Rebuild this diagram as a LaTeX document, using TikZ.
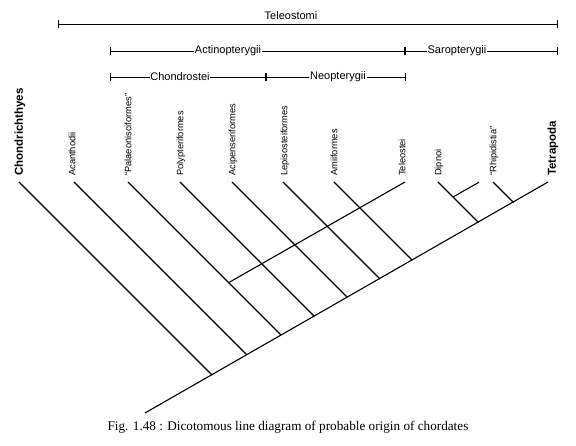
\documentclass[tikz,border=0pt]{standalone}
\usepackage{fontspec}
\setmainfont{Liberation Sans}
\newfontfamily\capfont{Liberation Serif}
\usetikzlibrary{arrows.meta}
\begin{document}
\begin{tikzpicture}[x=1pt,y=-1pt,
  branch/.style={line width=1.1pt},
  taxon/.style={rotate=90,anchor=west,inner sep=0pt,font=\fontsize{9.3}{10}\selectfont},
  bigtaxon/.style={rotate=90,anchor=west,inner sep=0pt,font=\fontsize{11.5}{12}\selectfont\bfseries},
  bar/.style={line width=0.8pt,{Bar[width=8pt]}-{Bar[width=8pt]}},
  barlabel/.style={fill=white,inner sep=0.8pt,font=\fontsize{11}{12}\selectfont}]
\useasboundingbox (0,0) rectangle (576,446);

% group bars
\coordinate (b1a) at (58,24);  \coordinate (b1b) at (558,24);
\coordinate (b2a) at (110,51); \coordinate (b2m) at (405,51); \coordinate (b2b) at (558,51);
\coordinate (b3a) at (110,77); \coordinate (b3m) at (266,77); \coordinate (b3b) at (406,77);
\draw[bar] (b1a) -- (b1b);
\draw[bar] (b2a) -- (b2m);
\draw[bar] (b2m) -- (b2b);
\draw[bar] (b3a) -- (b3m);
\draw[bar] (b3m) -- (b3b);
\node[font=\fontsize{11}{12}\selectfont,anchor=base] (teleostomi) at (291,20) {Teleostomi};
\node[barlabel] (actino) at (228,51) {Actinopterygii};
\node[barlabel] (saro) at (457,51) {Saropterygii};
\node[barlabel] (chondro) at (180,77) {Chondrostei};
\node[barlabel] (neo) at (338,77) {Neopterygii};

% taxon labels
\node[bigtaxon] (Chon) at (20,176) {Chondrichthyes};
\node[taxon] (Acan) at (72,176) {Acanthodii};
\node[taxon] (Pala) at (128,176) {“Palaeonisciformes”};
\node[taxon] (Poly) at (181,176) {Polypteriformes};
\node[taxon] (Acip) at (233,176) {Acipenseriformes};
\node[taxon] (Lepi) at (285,176) {Lepisosteiformes};
\node[taxon] (Amii) at (334,176) {Amiiformes};
\node[taxon] (Tele) at (402,176) {Teleostei};
\node[taxon] (Dipn) at (439,176) {Dipnoi};
\node[taxon] (Rhip) at (494,176) {“Rhipidistia”};
\node[bigtaxon] (Tetr) at (553,176) {Tetrapoda};

% tips
\coordinate (tChon) at (19,182);
\coordinate (tAcan) at (74,182);
\coordinate (tPala) at (128,182);
\coordinate (tPoly) at (180,182);
\coordinate (tAcip) at (232,182);
\coordinate (tLepi) at (283,182);
\coordinate (tAmii) at (334,182);
\coordinate (tTele) at (405,182);
\coordinate (tDipn) at (438,182);
\coordinate (tRhip) at (493,182);
\coordinate (tTetr) at (548,182);
\coordinate (tSub)  at (479,182.2);

% joins
\coordinate (root)  at (145,413);
\coordinate (jChon) at (211.85,374.85);
\coordinate (jAcan) at (246.87,354.87);
\coordinate (jPala) at (281.24,335.24);
\coordinate (jPoly) at (314.35,316.35);
\coordinate (jAcip) at (347.45,297.45);
\coordinate (jLepi) at (379.92,278.92);
\coordinate (jAmii) at (412.39,260.39);
\coordinate (jDipn) at (478.61,222.61);
\coordinate (jRhip) at (513.62,202.62);
\coordinate (jTele) at (228.64,282.64);
\coordinate (jSub)  at (453,197);

\draw[branch] (root) -- (tTetr);
\draw[branch] (tChon) -- (jChon);
\draw[branch] (tAcan) -- (jAcan);
\draw[branch] (tPala) -- (jPala);
\draw[branch] (tPoly) -- (jPoly);
\draw[branch] (tAcip) -- (jAcip);
\draw[branch] (tLepi) -- (jLepi);
\draw[branch] (tAmii) -- (jAmii);
\draw[branch] (tTele) -- (jTele);
\draw[branch] (tDipn) -- (jDipn);
\draw[branch] (jSub) -- (tSub);
\draw[branch] (tRhip) -- (jRhip);

% caption
\node[font=\capfont\fontsize{13.2}{15}\selectfont] (cap) at (288,427) {Fig. 1.48 : Dicotomous line diagram of probable origin of chordates};
\end{tikzpicture}
\end{document}
